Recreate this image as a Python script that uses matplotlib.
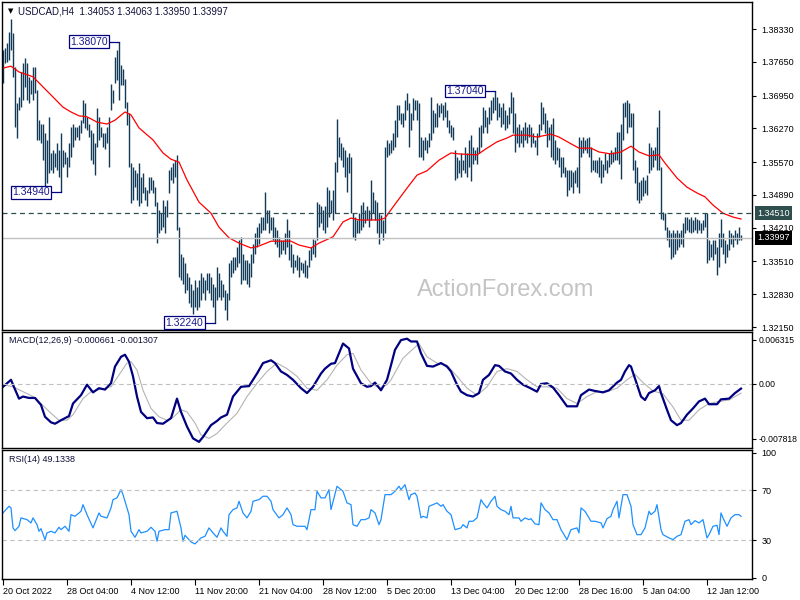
import matplotlib.pyplot as plt
from matplotlib.transforms import blended_transform_factory

plt.rcParams['font.family'] = ['Liberation Sans', 'DejaVu Sans']

# H4 bars, high / low of each bar
highs = [
    1.3790, 1.3794, 1.3804, 1.3827, 1.3854, 1.3825, 1.3754, 1.3680, 1.3692, 1.3744,
    1.3763, 1.3773, 1.3763, 1.3734, 1.3727, 1.3754, 1.3754, 1.3706, 1.3644, 1.3637,
    1.3637, 1.3617, 1.3603, 1.3651, 1.3575, 1.3582, 1.3575, 1.3596, 1.3582, 1.3617,
    1.3582, 1.3579, 1.3568, 1.3596, 1.3630, 1.3637, 1.3630, 1.3630, 1.3634, 1.3644,
    1.3686, 1.3679, 1.3651, 1.3637, 1.3624, 1.3617, 1.3596, 1.3669, 1.3651, 1.3630,
    1.3617, 1.3617, 1.3630, 1.3651, 1.3720, 1.3706, 1.3775, 1.3789, 1.3807, 1.3758,
    1.3751, 1.3730, 1.3682, 1.3659, 1.3555, 1.3547, 1.3540, 1.3534, 1.3555, 1.3527,
    1.3534, 1.3506, 1.3499, 1.3527, 1.3527, 1.3520, 1.3506, 1.3474, 1.3458, 1.3451,
    1.3478, 1.3465, 1.3478, 1.3540, 1.3547, 1.3555, 1.3561, 1.3572, 1.3422, 1.3367,
    1.3360, 1.3347, 1.3326, 1.3319, 1.3305, 1.3292, 1.3312, 1.3298, 1.3312, 1.3326,
    1.3319, 1.3312, 1.3326, 1.3326, 1.3319, 1.3305, 1.3298, 1.3340, 1.3326, 1.3312,
    1.3305, 1.3292, 1.3285, 1.3347, 1.3354, 1.3360, 1.3360, 1.3381, 1.3395, 1.3402,
    1.3367, 1.3354, 1.3354, 1.3347, 1.3367, 1.3388, 1.3409, 1.3423, 1.3430, 1.3444,
    1.3444, 1.3495, 1.3458, 1.3458, 1.3444, 1.3444, 1.3423, 1.3416, 1.3402, 1.3395,
    1.3395, 1.3409, 1.3440, 1.3416, 1.3388, 1.3367, 1.3354, 1.3364, 1.3360, 1.3350,
    1.3347, 1.3354, 1.3343, 1.3374, 1.3381, 1.3398, 1.3395, 1.3474, 1.3471, 1.3465,
    1.3458, 1.3465, 1.3506, 1.3499, 1.3478, 1.3499, 1.3557, 1.3646, 1.3610, 1.3596,
    1.3589, 1.3582, 1.3568, 1.3575, 1.3568, 1.3451, 1.3444, 1.3437, 1.3451, 1.3468,
    1.3474, 1.3458, 1.3465, 1.3458, 1.3520, 1.3496, 1.3478, 1.3474, 1.3451, 1.3447,
    1.3437, 1.3589, 1.3603, 1.3596, 1.3603, 1.3617, 1.3644, 1.3675, 1.3675, 1.3658,
    1.3658, 1.3686, 1.3700, 1.3679, 1.3658, 1.3689, 1.3686, 1.3686, 1.3679, 1.3610,
    1.3603, 1.3610, 1.3603, 1.3617, 1.3693, 1.3665, 1.3658, 1.3679, 1.3675, 1.3679,
    1.3675, 1.3682, 1.3665, 1.3644, 1.3634, 1.3630, 1.3582, 1.3568, 1.3561, 1.3575,
    1.3561, 1.3589, 1.3575, 1.3603, 1.3613, 1.3589, 1.3582, 1.3589, 1.3630, 1.3634,
    1.3672, 1.3665, 1.3651, 1.3672, 1.3686, 1.3693, 1.3704, 1.3693, 1.3679, 1.3672,
    1.3679, 1.3665, 1.3655, 1.3672, 1.3703, 1.3693, 1.3658, 1.3630, 1.3637, 1.3624,
    1.3630, 1.3641, 1.3630, 1.3637, 1.3630, 1.3617, 1.3603, 1.3617, 1.3637, 1.3682,
    1.3672, 1.3658, 1.3644, 1.3630, 1.3637, 1.3648, 1.3603, 1.3589, 1.3586, 1.3568,
    1.3568, 1.3547, 1.3540, 1.3540, 1.3540, 1.3537, 1.3540, 1.3547, 1.3609, 1.3603,
    1.3610, 1.3603, 1.3606, 1.3610, 1.3589, 1.3561, 1.3561, 1.3561, 1.3568, 1.3561,
    1.3554, 1.3575, 1.3561, 1.3575, 1.3582, 1.3579, 1.3589, 1.3620, 1.3620, 1.3637,
    1.3679, 1.3682, 1.3686, 1.3679, 1.3658, 1.3658, 1.3561, 1.3547, 1.3516, 1.3520,
    1.3527, 1.3520, 1.3530, 1.3596, 1.3589, 1.3582, 1.3589, 1.3630, 1.3665, 1.3547,
    1.3454, 1.3451, 1.3423, 1.3416, 1.3409, 1.3416, 1.3409, 1.3416, 1.3409, 1.3416,
    1.3430, 1.3444, 1.3444, 1.3440, 1.3444, 1.3437, 1.3444, 1.3440, 1.3437, 1.3430,
    1.3437, 1.3451, 1.3451, 1.3395, 1.3388, 1.3395, 1.3395, 1.3381, 1.3409, 1.3440,
    1.3409, 1.3395, 1.3388, 1.3416, 1.3409, 1.3405, 1.3416, 1.3409, 1.3423, 1.34063,
]
lows = [
    1.3721, 1.3763, 1.3765, 1.3769, 1.3790, 1.3734, 1.3630, 1.3607, 1.3665, 1.3671,
    1.3686, 1.3713, 1.3686, 1.3680, 1.3698, 1.3686, 1.3700, 1.3603, 1.3603, 1.3596,
    1.3561, 1.3506, 1.3513, 1.3534, 1.3540, 1.3534, 1.3547, 1.3540, 1.3527, 1.3494,
    1.3547, 1.3554, 1.3527, 1.3547, 1.3568, 1.3589, 1.3603, 1.3610, 1.3603, 1.3617,
    1.3638, 1.3627, 1.3624, 1.3610, 1.3561, 1.3554, 1.3530, 1.3589, 1.3603, 1.3610,
    1.3589, 1.3585, 1.3596, 1.3547, 1.3665, 1.3679, 1.3721, 1.3727, 1.3686, 1.3717,
    1.3717, 1.3669, 1.3634, 1.3547, 1.3472, 1.3479, 1.3506, 1.3479, 1.3465, 1.3472,
    1.3492, 1.3479, 1.3465, 1.3492, 1.3499, 1.3492, 1.3465, 1.3389, 1.3409, 1.3416,
    1.3423, 1.3409, 1.3444, 1.3492, 1.3520, 1.3513, 1.3527, 1.3416, 1.3319, 1.3312,
    1.3305, 1.3285, 1.3292, 1.3264, 1.3257, 1.3243, 1.3257, 1.3250, 1.3257, 1.3271,
    1.3285, 1.3271, 1.3292, 1.3285, 1.3271, 1.3257, 1.3224, 1.3271, 1.3278, 1.3271,
    1.3278, 1.3250, 1.3230, 1.3271, 1.3319, 1.3326, 1.3333, 1.3340, 1.3347, 1.3305,
    1.3312, 1.3312, 1.3305, 1.3298, 1.3319, 1.3347, 1.3367, 1.3381, 1.3388, 1.3409,
    1.3416, 1.3416, 1.3430, 1.3409, 1.3416, 1.3395, 1.3388, 1.3381, 1.3360, 1.3367,
    1.3374, 1.3367, 1.3381, 1.3354, 1.3340, 1.3326, 1.3340, 1.3333, 1.3319, 1.3333,
    1.3326, 1.3319, 1.3316, 1.3340, 1.3354, 1.3367, 1.3360, 1.3395, 1.3423, 1.3430,
    1.3416, 1.3409, 1.3423, 1.3444, 1.3451, 1.3437, 1.3451, 1.3536, 1.3568, 1.3561,
    1.3547, 1.3527, 1.3496, 1.3534, 1.3451, 1.3402, 1.3395, 1.3409, 1.3409, 1.3416,
    1.3423, 1.3430, 1.3437, 1.3423, 1.3437, 1.3451, 1.3437, 1.3409, 1.3388, 1.3410,
    1.3395, 1.3409, 1.3568, 1.3572, 1.3575, 1.3582, 1.3589, 1.3610, 1.3644, 1.3637,
    1.3630, 1.3644, 1.3665, 1.3589, 1.3624, 1.3644, 1.3665, 1.3644, 1.3568, 1.3568,
    1.3561, 1.3582, 1.3575, 1.3589, 1.3603, 1.3617, 1.3630, 1.3630, 1.3651, 1.3658,
    1.3644, 1.3651, 1.3630, 1.3617, 1.3610, 1.3603, 1.3520, 1.3524, 1.3534, 1.3527,
    1.3540, 1.3534, 1.3527, 1.3547, 1.3517, 1.3554, 1.3561, 1.3554, 1.3575, 1.3589,
    1.3617, 1.3630, 1.3617, 1.3637, 1.3644, 1.3658, 1.3665, 1.3644, 1.3651, 1.3630,
    1.3637, 1.3624, 1.3627, 1.3637, 1.3658, 1.3617, 1.3579, 1.3596, 1.3589, 1.3596,
    1.3589, 1.3603, 1.3596, 1.3610, 1.3589, 1.3596, 1.3589, 1.3572, 1.3610, 1.3624,
    1.3637, 1.3617, 1.3589, 1.3603, 1.3568, 1.3561, 1.3554, 1.3561, 1.3547, 1.3527,
    1.3534, 1.3527, 1.3486, 1.3499, 1.3506, 1.3492, 1.3513, 1.3506, 1.3493, 1.3568,
    1.3575, 1.3582, 1.3575, 1.3568, 1.3537, 1.3540, 1.3537, 1.3534, 1.3527, 1.3513,
    1.3527, 1.3540, 1.3534, 1.3547, 1.3554, 1.3558, 1.3561, 1.3561, 1.3554, 1.3523,
    1.3603, 1.3651, 1.3617, 1.3630, 1.3630, 1.3540, 1.3513, 1.3479, 1.3472, 1.3479,
    1.3486, 1.3492, 1.3489, 1.3534, 1.3540, 1.3547, 1.3561, 1.3540, 1.3540, 1.3440,
    1.3437, 1.3416, 1.3395, 1.3381, 1.3357, 1.3360, 1.3367, 1.3374, 1.3381, 1.3388,
    1.3381, 1.3409, 1.3416, 1.3413, 1.3409, 1.3413, 1.3416, 1.3409, 1.3416, 1.3409,
    1.3416, 1.3423, 1.3347, 1.3354, 1.3360, 1.3354, 1.3367, 1.3323, 1.3340, 1.3381,
    1.3367, 1.3347, 1.3360, 1.3374, 1.3388, 1.3381, 1.3395, 1.3388, 1.3395, 1.33950,
]

# moving average (red), read at bar positions
ma_bar = [0, 4, 8, 15, 20, 25, 30, 34, 38, 42, 47, 52, 56, 61, 64, 68, 75, 80, 84, 88,
          92, 98, 104, 108, 113, 118, 124, 128, 134, 138, 144, 148, 154, 158, 165, 170,
          174, 178, 185, 188, 191, 195, 202, 207, 212, 218, 224, 228, 237, 242, 247,
          252, 255, 262, 267, 274, 278, 284, 288, 294, 298, 304, 309, 314, 318, 323,
          328, 331, 337, 342, 347, 351, 355, 360, 365, 369]
ma_val = [1.3752, 1.3756, 1.3744, 1.3734, 1.3713, 1.3692, 1.3671, 1.3661, 1.3653, 1.3651,
          1.3640, 1.3636, 1.3644, 1.3661, 1.3655, 1.3628, 1.3603, 1.3576, 1.3563, 1.3557,
          1.3520, 1.3474, 1.3451, 1.3422, 1.3400, 1.3389, 1.3379, 1.3383, 1.3393, 1.3393,
          1.3393, 1.3385, 1.3379, 1.3389, 1.3402, 1.3433, 1.3441, 1.3437, 1.3437, 1.3437,
          1.3441, 1.3464, 1.3503, 1.3530, 1.3539, 1.3561, 1.3576, 1.3574, 1.3572, 1.3586,
          1.3599, 1.3607, 1.3613, 1.3613, 1.3609, 1.3615, 1.3609, 1.3595, 1.3586, 1.3586,
          1.3578, 1.3574, 1.3578, 1.3590, 1.3578, 1.3570, 1.3572, 1.3555, 1.3524, 1.3505,
          1.3493, 1.3485, 1.3468, 1.3451, 1.3443, 1.3439]

macd_bar = [0, 4, 5, 8, 10, 13, 16, 19, 21, 24, 26, 29, 33, 35, 39, 42, 45, 48, 51, 54,
            56, 59, 61, 63, 65, 67, 69, 72, 75, 77, 80, 84, 87, 89, 92, 95, 98, 100, 104,
            107, 109, 112, 115, 119, 123, 127, 130, 134, 136, 139, 142, 145, 149, 152,
            155, 159, 161, 164, 166, 169, 170, 173, 175, 179, 182, 184, 186, 189, 192,
            194, 196, 199, 202, 204, 207, 209, 212, 215, 219, 222, 224, 227, 229, 232,
            235, 238, 240, 243, 246, 248, 251, 254, 257, 260, 263, 267, 269, 272, 275,
            278, 282, 287, 289, 293, 296, 300, 303, 307, 309, 311, 313, 314, 317, 319,
            321, 323, 326, 328, 329, 332, 334, 337, 339, 342, 345, 348, 351, 353, 357,
            359, 363, 366, 369]
macd_val = [-0.0004, 0.0006, -0.0001, -0.0021, -0.0018, -0.0020, -0.0020, -0.0030, -0.0047,
            -0.0055, -0.0057, -0.0052, -0.0046, -0.0028, -0.0016, -0.0001, -0.0012, -0.0006,
            -0.0008, 0.0001, 0.0025, 0.0039, 0.0042, 0.0032, 0.0011, -0.0018, -0.0040,
            -0.0049, -0.0048, -0.0056, -0.0057, -0.0049, -0.0021, -0.0040, -0.0061, -0.0078,
            -0.0083, -0.0076, -0.0059, -0.0053, -0.0048, -0.0044, -0.0018, -0.0004, -0.0003,
            0.0015, 0.0030, 0.0034, 0.0030, 0.0018, 0.0013, 0.0006, -0.0006, -0.0013, -0.0004,
            0.0015, 0.0022, 0.0029, 0.0030, 0.0051, 0.0058, 0.0051, 0.0022, 0.0001, -0.0004,
            -0.0003, 0.0002, -0.0009, 0.0006, 0.0027, 0.0049, 0.0063, 0.0065, 0.0061, 0.0061,
            0.0044, 0.0026, 0.0025, 0.0030, 0.0025, 0.0018, -0.0001, -0.0011, -0.0016,
            -0.0018, -0.0013, 0.0006, 0.0013, 0.0027, 0.0026, 0.0018, 0.0015, 0.0006, -0.0001,
            -0.0005, -0.0011, 0.0000, 0.0001, -0.0005, -0.0016, -0.0032, -0.0032, -0.0016,
            -0.0008, -0.0010, -0.0012, -0.0009, 0.0002, 0.0006, 0.0018, 0.0027, 0.0025,
            -0.0001, -0.0018, -0.0023, -0.0013, -0.0009, -0.0003, -0.0013, -0.0037, -0.0052,
            -0.0059, -0.0056, -0.0044, -0.0035, -0.0025, -0.0021, -0.0029, -0.0029, -0.0022,
            -0.0021, -0.0013, -0.000661]

signal_bar = [0, 5, 10, 15, 19, 24, 28, 32, 35, 40, 44, 48, 54, 58, 62, 64, 67, 70, 74, 78,
              82, 85, 89, 92, 96, 99, 103, 107, 112, 117, 122, 127, 132, 137, 142, 147, 152,
              157, 162, 167, 172, 175, 179, 184, 188, 192, 194, 200, 208, 212, 217, 222,
              227, 232, 237, 242, 247, 252, 257, 262, 267, 272, 277, 282, 287, 292, 297,
              302, 307, 312, 316, 320, 325, 330, 335, 339, 343, 348, 353, 358, 363, 369]
signal_val = [-0.0001, -0.0004, -0.0011, -0.0018, -0.0028, -0.0042, -0.0052, -0.0052, -0.0044,
              -0.0021, -0.0011, -0.0008, -0.0004, 0.0013, 0.0030, 0.0032, 0.0020, -0.0009,
              -0.0035, -0.0047, -0.0052, -0.0048, -0.0037, -0.0040, -0.0056, -0.0073, -0.0078,
              -0.0071, -0.0056, -0.0042, -0.0018, 0.0001, 0.0018, 0.0030, 0.0022, 0.0011,
              -0.0006, -0.0009, 0.0006, 0.0027, 0.0042, 0.0044, 0.0020, 0.0001, -0.0006,
              -0.0001, 0.0006, 0.0037, 0.0058, 0.0039, 0.0030, 0.0027, 0.0011, -0.0006,
              -0.0016, -0.0004, 0.0018, 0.0022, 0.0018, 0.0006, -0.0004, -0.0004, -0.0006,
              -0.0021, -0.0028, -0.0018, -0.0011, -0.0011, -0.0006, 0.0006, 0.0014, 0.0002,
              -0.0010, -0.0014, -0.0033, -0.0052, -0.0052, -0.0037, -0.0028, -0.0025, -0.0023,
              -0.001307]

rsi_bar = [0, 3, 4, 5, 6, 8, 9, 12, 14, 15, 17, 18, 19, 21, 22, 24, 26, 28, 29, 31, 33, 34,
           36, 39, 40, 42, 45, 48, 49, 52, 54, 55, 57, 59, 60, 61, 63, 64, 66, 68, 69, 72,
           74, 76, 77, 78, 81, 83, 84, 87, 89, 90, 91, 93, 94, 96, 99, 101, 103, 105, 107,
           109, 110, 112, 113, 115, 117, 118, 120, 122, 124, 125, 128, 130, 132, 134, 135,
           138, 140, 142, 144, 145, 147, 149, 151, 152, 154, 156, 157, 159, 161, 163, 164,
           167, 169, 170, 172, 174, 175, 177, 179, 181, 183, 184, 186, 188, 189, 191, 194,
           196, 198, 199, 201, 203, 204, 206, 207, 209, 210, 212, 213, 215, 217, 219, 220,
           222, 224, 226, 229, 230, 232, 233, 235, 237, 239, 240, 242, 244, 246, 247, 249,
           251, 253, 254, 255, 258, 259, 261, 263, 264, 266, 268, 269, 271, 273, 275, 277,
           279, 280, 282, 284, 287, 288, 289, 291, 294, 296, 299, 300, 302, 304, 305, 307,
           308, 310, 312, 314, 315, 317, 319, 321, 323, 324, 326, 327, 329, 330, 333, 335,
           337, 339, 341, 343, 344, 346, 348, 350, 352, 353, 355, 357, 358, 359, 360, 362,
           364, 366, 368, 369]
rsi_val = [51.9, 57.2, 55.9, 39.9, 37.7, 41.2, 47.9, 46.5, 43.9, 47.9, 42.5, 37.2, 39.3,
           30.5, 35.9, 37.2, 35.9, 40.4, 38.5, 41.2, 37.2, 50.5, 49.2, 53.2, 58.5, 50.5,
           39.9, 51.9, 49.2, 47.9, 55.9, 62.5, 63.9, 70.5, 66.5, 61.2, 50.5, 37.2, 32.4,
           38.5, 35.9, 37.2, 40.4, 37.2, 29.2, 37.2, 38.5, 38.5, 51.9, 53.2, 39.9, 29.2,
           34.0, 30.5, 28.7, 27.1, 31.9, 33.2, 39.9, 35.9, 32.4, 39.9, 37.2, 33.2, 50.5,
           54.5, 55.9, 61.2, 51.9, 47.9, 53.2, 61.2, 62.5, 65.2, 65.2, 61.2, 54.5, 47.9,
           50.5, 55.9, 50.5, 42.5, 41.2, 41.2, 41.2, 38.5, 54.5, 54.5, 69.2, 63.9, 63.9,
           70.5, 54.5, 73.2, 70.5, 69.2, 59.9, 58.5, 42.5, 41.2, 46.5, 46.5, 47.9, 54.5,
           51.9, 42.5, 46.5, 66.5, 66.5, 69.2, 73.2, 70.5, 74.5, 62.5, 66.5, 67.8, 65.2,
           47.9, 49.2, 47.9, 57.2, 58.5, 59.9, 57.2, 58.5, 53.2, 50.5, 38.5, 39.9, 42.5,
           39.9, 45.2, 45.2, 47.9, 62.5, 59.9, 55.9, 61.2, 65.2, 57.2, 54.5, 53.2, 50.5,
           57.2, 47.9, 47.9, 45.2, 47.9, 46.5, 47.3, 43.1, 42.5, 59.9, 54.5, 51.9, 46.5,
           46.5, 38.5, 35.9, 30.5, 38.5, 39.9, 35.9, 55.9, 53.2, 45.2, 45.2, 43.9, 39.9,
           47.3, 49.2, 54.5, 61.2, 47.9, 66.5, 66.5, 57.2, 42.5, 34.5, 34.5, 39.9, 53.2,
           50.5, 53.2, 58.5, 38.5, 34.5, 31.9, 30.5, 33.2, 34.5, 45.2, 46.5, 42.5, 45.7,
           43.9, 46.5, 31.9, 34.5, 41.2, 42.0, 34.5, 51.9, 47.9, 41.2, 47.9, 50.5, 50.5,
           49.1338]

price_ticks = [1.38330, 1.37650, 1.36950, 1.36270, 1.35570, 1.34890, 1.34210, 1.33510,
               1.32830, 1.32150]
time_bars = [0, 32, 64, 96, 128, 160, 192, 224, 256, 288, 320, 352]
time_labels = ['20 Oct 2022', '28 Oct 04:00', '4 Nov 12:00', '11 Nov 20:00', '21 Nov 04:00',
               '28 Nov 12:00', '5 Dec 20:00', '13 Dec 04:00', '20 Dec 12:00', '28 Dec 16:00',
               '5 Jan 04:00', '12 Jan 12:00']
swing_prices = [1.38070, 1.34940, 1.32240, 1.37040]
swing_bars = [58, 29, 106, 246]
level = 1.34510
last_close = 1.33997

W, H = 800, 600
fig = plt.figure(figsize=(8, 6), dpi=100)


def rect(l, t, r, b):
    return [l / W, 1 - b / H, (r - l) / W, (b - t) / H]


ax1 = fig.add_axes(rect(2, 2, 752, 330))
ax2 = fig.add_axes(rect(2, 331.5, 752, 448))
ax3 = fig.add_axes(rect(2, 450, 752, 579))

bar_color = '#113a58'
for ax in (ax1, ax2, ax3):
    ax.set_xlim(-0.5, 374.5)
    ax.yaxis.tick_right()
    ax.tick_params(axis='y', direction='out', length=3, width=0.8, pad=4,
                   labelsize=6.5, colors='black')
    for s in ax.spines.values():
        s.set_linewidth(1.0)
        s.set_color('black')
ax1.set_xticks([])
ax2.set_xticks([])

# price panel
x = list(range(len(highs)))
ax1.vlines(x, lows, highs, color=bar_color, lw=1.0)
ax1.plot(ma_bar, ma_val, color='red', lw=0.9)
ax1.axhline(level, color='#2f4f4f', lw=0.9, ls=(0, (4, 3)))
ax1.axhline(last_close, color='#c0c0c0', lw=1.0)
ax1.set_ylim(1.32088, 1.38891)
ax1.set_yticks(price_ticks)
ax1.set_yticklabels([f'{v:.5f}' for v in price_ticks])

tr = blended_transform_factory(ax1.transAxes, ax1.transData)
ax1.text(1.007, level, f'{level:.5f}', transform=tr, ha='left', va='center',
         fontsize=6.5, color='white',
         bbox=dict(boxstyle='square,pad=0.3', fc='#2f4f4f', ec='none'))
ax1.text(1.007, last_close, f'{last_close:.5f}', transform=tr, ha='left', va='center',
         fontsize=6.5, color='white',
         bbox=dict(boxstyle='square,pad=0.3', fc='black', ec='none'))

for p, b in zip(swing_prices, swing_bars):
    ax1.plot([b - 5, b], [p, p], color='#000080', lw=0.9)
    ax1.text(b - 5.8, p, f'{p:.5f}', ha='right', va='center', fontsize=7.5,
             color='#1a1a8c',
             bbox=dict(boxstyle='square,pad=0.12', fc='white', ec='#000080', lw=0.9))

ax1.text(0.671, 0.122, 'ActionForex.com', transform=ax1.transAxes, ha='center',
         va='center', fontsize=17, color='#c4c4c4')

fig.text(8 / W, 1 - 11 / H, '▼', fontsize=5, family='DejaVu Sans', va='center')
fig.text(18 / W, 1 - 11 / H, 'USDCAD,H4  1.34053 1.34063 1.33950 1.33997',
         fontsize=7, va='center', color='#10103a')

# MACD panel
ax2.plot(signal_bar, signal_val, color='#b4b4b4', lw=0.8)
ax2.plot(macd_bar, macd_val, color='#000080', lw=1.6)
ax2.axhline(0, color='#c0c0c0', lw=0.8, ls=(0, (4, 3)))
ax2.set_ylim(-0.00918, 0.00753)
ax2.set_yticks([0.006315, 0.0, -0.007818])
ax2.set_yticklabels(['0.006315', '0.00', '-0.007818'])
ax2.tick_params(axis='y', pad=1.5, labelsize=6.2)
ax2.text(7 / 750, 1 - 9 / 116.5, 'MACD(12,26,9) -0.000661 -0.001307',
         transform=ax2.transAxes, fontsize=6.5, va='center', color='#10103a')

# RSI panel
ax3.plot(rsi_bar, rsi_val, color='#1e90ff', lw=0.9)
for lv in (70, 30):
    ax3.axhline(lv, color='#c0c0c0', lw=0.8, ls=(0, (4, 3)))
ax3.set_ylim(-0.96, 102.2)
ax3.set_yticks([100, 70, 30, 0])
ax3.set_yticklabels(['100', '70', '30', '0'])
ax3.text(7 / 750, 1 - 10 / 129, 'RSI(14) 49.1338', transform=ax3.transAxes,
         fontsize=6.5, va='center', color='#10103a')

ax3.set_xticks(time_bars)
ax3.set_xticklabels(time_labels)
ax3.tick_params(axis='x', direction='out', length=4, width=0.8, pad=2, labelsize=6.5)
for lbl in ax3.get_xticklabels():
    lbl.set_ha('left')

fig.savefig('out.png', dpi=100, facecolor='white')
